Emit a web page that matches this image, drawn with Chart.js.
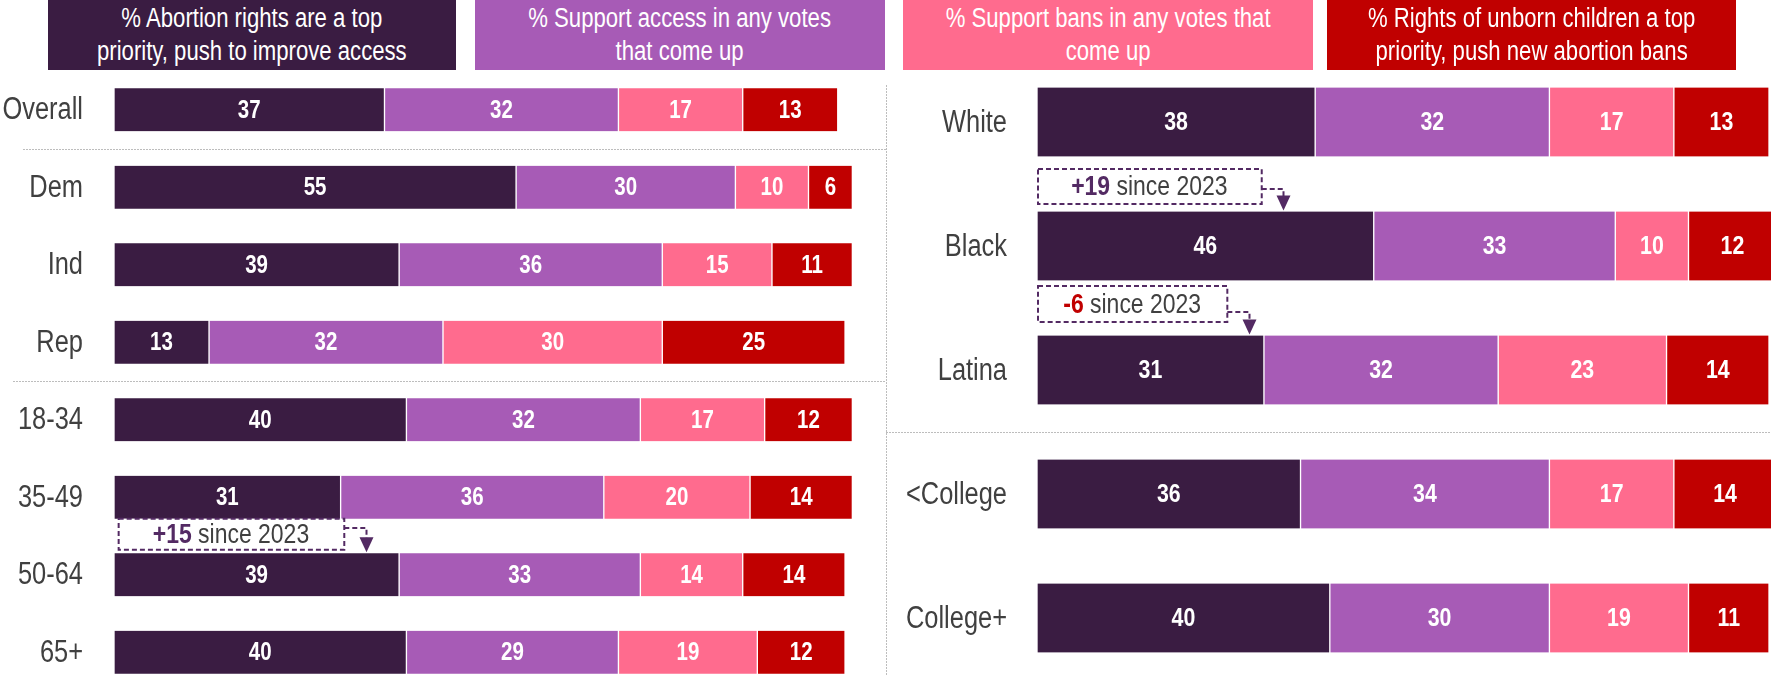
<!DOCTYPE html>
<html><head><meta charset="utf-8">
<script src="https://cdn.jsdelivr.net/npm/chart.js@4.4.0/dist/chart.umd.min.js"></script>
<style>
html,body{margin:0;padding:0;width:1771px;height:675px;overflow:hidden;background:#fff;}
#wrap{position:relative;width:1771px;height:675px;overflow:hidden;}
.hdr{position:absolute;top:0;height:70px;color:#fff;font-family:'Liberation Sans Narrow','Arial Narrow','Liberation Sans',sans-serif;font-size:27px;line-height:33px;text-align:center;display:flex;align-items:center;justify-content:center;overflow:visible;}
.hdr div{white-space:nowrap;transform:scaleX(0.82);transform-origin:50% 50%;}
canvas{position:absolute;}
</style></head>
<body><div id="wrap">
<canvas id="left" width="886" height="620" style="left:0;top:71px"></canvas>
<canvas id="right" width="885" height="620" style="left:886px;top:60px"></canvas>
</div>
<script>
// ---- data ----
const seriesNames = [
  ['% Abortion rights are a top', 'priority, push to improve access'],
  ['% Support access in any votes', 'that come up'],
  ['% Support bans in any votes that', 'come up'],
  ['% Rights of unborn children a top', 'priority, push new abortion bans']
];
const leftCategories = ['Overall','Dem','Ind','Rep','18-34','35-49','50-64','65+'];
const leftPriorityAccess = [37,55,39,13,40,31,39,40];
const leftSupportAccess  = [32,30,36,32,32,36,33,29];
const leftSupportBans    = [17,10,15,30,17,20,14,19];
const leftPriorityBans   = [13, 6,11,25,12,14,14,12];

const rightCategories = ['White','Black','Latina','<College','College+'];
const rightPriorityAccess = [38,46,31,36,40];
const rightSupportAccess  = [32,33,32,34,30];
const rightSupportBans    = [17,10,23,17,19];
const rightPriorityBans   = [13,12,14,14,11];

const leftNotes  = [{row:6, change:'+15', rest:'since 2023', up:true}];
const rightNotes = [{row:1, change:'+19', rest:'since 2023', up:true},
                    {row:2, change:'-6',  rest:'since 2023', up:false}];

// ---- styling ----
const FONT = "'Liberation Sans','Arial',sans-serif";
const NARROW = 0.82;   // horizontal squeeze to mimic a narrow face
const COLORS = ['#3a1c42','#a75bb6','#ff6b8e','#c00000'];
const NOTE_PURPLE = '#532a63';
const headerBoxes = [{l:48,w:408},{l:475,w:410},{l:903,w:410},{l:1327,w:409}];

seriesNames.forEach((lines,i)=>{
  const d=document.createElement('div');
  d.className='hdr';
  d.style.left=headerBoxes[i].l+'px';
  d.style.width=headerBoxes[i].w+'px';
  d.style.background=COLORS[i];
  d.innerHTML='<div>'+lines.join('<br>')+'</div>';
  document.getElementById('wrap').appendChild(d);
});

function narrowText(ctx, text, x, y, align){
  ctx.save(); ctx.translate(x,y); ctx.scale(NARROW,1);
  ctx.textAlign=align; ctx.fillText(text,0,0); ctx.restore();
}

const decor = {
  id:'decor',
  beforeDatasetsDraw(chart, args, o){
    const ctx=chart.ctx, ys=chart.scales.y;
    ctx.save();
    ctx.strokeStyle='#bdbdbd'; ctx.lineWidth=1; ctx.setLineDash([2,1]);
    (o.separators||[]).forEach(s=>{
      const py=Math.round((ys.getPixelForValue(s.after)+ys.getPixelForValue(s.after+1))/2)+0.5;
      ctx.beginPath(); ctx.moveTo(s.x0,py); ctx.lineTo(s.x1,py); ctx.stroke();
    });
    if(o.vline){ctx.beginPath();ctx.moveTo(0.5,o.vline);ctx.lineTo(0.5,chart.height);ctx.stroke();}
    ctx.restore();
  },
  afterDatasetsDraw(chart, args, o){
    const ctx=chart.ctx, xs=chart.scales.x, ys=chart.scales.y;
    ctx.save();
    ctx.textBaseline='middle';
    // category labels from the y scale
    ctx.font=`${o.labelSize}px ${FONT}`; ctx.fillStyle='#404040';
    chart.data.labels.forEach((lab,i)=>{
      narrowText(ctx, lab, chart.chartArea.left-o.labelPad, ys.getPixelForValue(i)+1, 'right');
    });
    // values
    ctx.font=`bold ${o.valueSize}px ${FONT}`; ctx.fillStyle='#fff';
    chart.data.datasets.forEach((ds,i)=>{
      chart.getDatasetMeta(i).data.forEach((el,j)=>{
        const p=el.getProps(['x','base','y'],true);
        narrowText(ctx, String(ds.data[j]), (p.x+p.base)/2, p.y+1, 'center');
      });
    });
    // notes
    (o.notes||[]).forEach((n,k)=>{
      const g=o.noteGeom[k];
      const barTop=ys.getPixelForValue(n.row)-o.bar/2;
      const bottom=barTop-g.gap, top=bottom-g.h;
      const x0=xs.getPixelForValue(g.from), x1=xs.getPixelForValue(g.to), ax=Math.round(xs.getPixelForValue(g.arrow))+0.5;
      ctx.setLineDash([]);
      ctx.fillStyle='#fff'; ctx.fillRect(x0,top,x1-x0,g.h);
      ctx.strokeStyle=NOTE_PURPLE; ctx.lineWidth=2; ctx.setLineDash([5,3]);
      ctx.strokeRect(x0+1,top,x1-x0-1,g.h);
      const ey=Math.round(top+g.elbow*g.h);
      ctx.beginPath(); ctx.moveTo(x1,ey); ctx.lineTo(ax,ey); ctx.lineTo(ax,barTop-14); ctx.stroke();
      ctx.setLineDash([]);
      ctx.fillStyle=NOTE_PURPLE;
      ctx.beginPath(); ctx.moveTo(ax-7,barTop-16); ctx.lineTo(ax+7,barTop-16); ctx.lineTo(ax,barTop-1); ctx.closePath(); ctx.fill();
      ctx.font=`bold ${o.noteSize}px ${FONT}`; const w1=ctx.measureText(n.change).width*NARROW;
      ctx.font=`${o.noteSize}px ${FONT}`; const w2=ctx.measureText(' '+n.rest).width*NARROW;
      const tx=(x0+x1)/2-(w1+w2)/2, ty=(top+bottom)/2+1;
      ctx.font=`bold ${o.noteSize}px ${FONT}`; ctx.fillStyle=n.up?NOTE_PURPLE:'#c00000';
      narrowText(ctx, n.change, tx, ty, 'left');
      ctx.font=`${o.noteSize}px ${FONT}`; ctx.fillStyle='#404040';
      narrowText(ctx, ' '+n.rest, tx+w1, ty, 'left');
    });
    ctx.restore();
  }
};

function makeDatasets(arrs, thickness){
  return arrs.map((d,i)=>({
    label: seriesNames[i].join(' '),
    data: d,
    backgroundColor: COLORS[i],
    borderColor:'#ffffff',
    borderWidth:{left:1,right:1,top:0,bottom:0},
    borderSkipped:false,
    barThickness: thickness
  }));
}

function makeChart(id, cats, arrs, cfg){
  return new Chart(document.getElementById(id),{
    type:'bar',
    data:{labels:cats, datasets:makeDatasets(arrs,cfg.bar)},
    options:{
      indexAxis:'y', responsive:false, animation:false,
      layout:{padding:0},
      scales:{
        x:{stacked:true,min:0,max:cfg.xmax,display:false},
        y:{stacked:true,grid:{display:false,drawTicks:false},border:{display:false},
           ticks:{display:false},
           afterFit(s){s.width=cfg.axisW;}}
      },
      plugins:{legend:{display:false},tooltip:{enabled:false},decor:cfg.decor}
    },
    plugins:[decor]
  });
}

makeChart('left', leftCategories,
  [leftPriorityAccess,leftSupportAccess,leftSupportBans,leftPriorityBans],
  {bar:43, xmax:105.6, axisW:114,
   decor:{labelSize:31, labelPad:31, valueSize:25, noteSize:28, bar:43,
     separators:[{after:0,x0:23,x1:886},{after:3,x0:13,x1:886}],
     notes:leftNotes,
     noteGeom:[{from:0.5,to:31.5,arrow:34.5,gap:3.5,h:31,elbow:0.3}]}});

makeChart('right', rightCategories,
  [rightPriorityAccess,rightSupportAccess,rightSupportBans,rightPriorityBans],
  {bar:69, xmax:100.27, axisW:151,
   decor:{labelSize:31, labelPad:30, valueSize:26, noteSize:28, bar:69, vline:25,
     separators:[{after:2,x0:0,x1:885}],
     notes:rightNotes,
     noteGeom:[{from:0,to:30.7,arrow:33.6,gap:7.5,h:35,elbow:0.57},
               {from:0,to:26.0,arrow:29.0,gap:13.5,h:36,elbow:0.72}]}});
</script>
</body></html>
